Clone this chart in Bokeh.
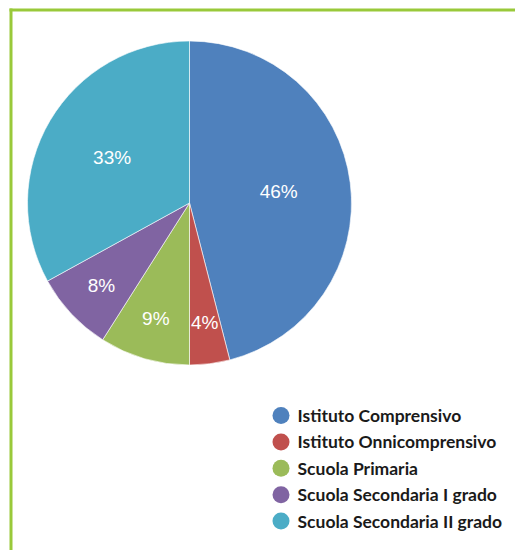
import math
from bokeh.plotting import figure
from bokeh.models import ColumnDataSource
from bokeh.core.properties import value
from bokeh.embed import file_html
from bokeh.resources import INLINE

categories = ["Istituto Comprensivo", "Istituto Onnicomprensivo", "Scuola Primaria",
              "Scuola Secondaria I grado", "Scuola Secondaria II grado"]
shares = [46, 4, 9, 8, 33]
colors = ["#4F81BD", "#C0504D", "#9BBB59", "#8064A2", "#4BACC6"]

W, H = 515, 550
p = figure(width=W, height=H, x_range=(0, W), y_range=(0, H),
           output_backend="svg", toolbar_location=None, min_border=0)
p.axis.visible = False
p.grid.visible = False
p.outline_line_color = None
p.background_fill_color = "white"

# green frame (top and left edges visible)
p.segment(x0=[9, 10.5], y0=[H - 9.5, H - 8], x1=[W, 10.5], y1=[H - 9.5, 0],
          line_color="#99C93A", line_width=3)

cx, cy, r = 189, 347.5, 162
total = sum(shares)
starts, ends, lx, ly, labels = [], [], [], [], []
cum = 0.0
for s in shares:
    a0 = math.pi / 2 - 2 * math.pi * cum / total
    a1 = math.pi / 2 - 2 * math.pi * (cum + s) / total
    starts.append(a1)
    ends.append(a0)
    mid = (a0 + a1) / 2
    k = 0.745 if s < 10 else 0.555
    lx.append(cx + k * r * math.cos(mid))
    ly.append(cy + k * r * math.sin(mid))
    labels.append(f"{s}%")
    cum += s

src = ColumnDataSource(dict(start=starts, end=ends, color=colors, x=lx, y=ly, label=labels))
p.wedge(x=cx, y=cy, radius=r, start_angle="start", end_angle="end",
        fill_color="color", line_color="white", line_width=0.6, source=src)
p.text(x="x", y="y", text="label", source=src, text_color="white",
       text_font=value("Liberation Sans"), text_font_size="19px",
       text_align="center", text_baseline="middle")

# legend
leg_x, leg_y0, step = 280.5, 135, 26.4
n = len(categories)
ly_leg = [leg_y0 - i * step for i in range(n)]
lsrc = ColumnDataSource(dict(x=[leg_x] * n, y=ly_leg, tx=[leg_x + 16.5] * n,
                             name=categories, color=colors))
p.scatter(x="x", y="y", source=lsrc, size=17, marker="circle", fill_color="color", line_color=None)
p.text(x="tx", y="y", text="name", source=lsrc, text_color="#1a1a1a",
       text_font=value("Lato"), text_font_style="bold", text_font_size="17.5px",
       text_align="left", text_baseline="middle")

open("out.html", "w").write(file_html(p, INLINE))
